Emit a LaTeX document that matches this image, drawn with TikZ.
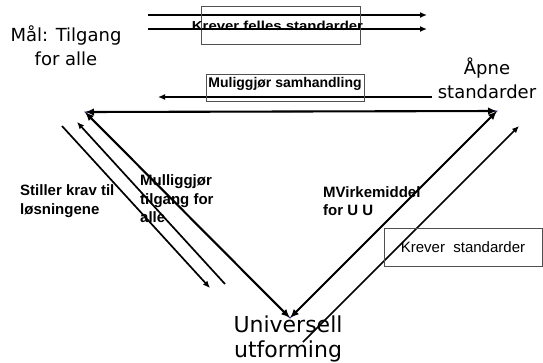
\documentclass[tikz,border=0pt]{standalone}
\usepackage{fontspec}
\usepackage{graphicx}
\setmainfont{Liberation Sans}
\newfontfamily\comic{DejaVu Sans}
\usetikzlibrary{arrows.meta}
\definecolor{navy}{RGB}{51,51,153}
\definecolor{boxgray}{RGB}{80,80,80}
\begin{document}
\begin{tikzpicture}[x=1pt,y=-1pt,
  arr/.style={line width=1.7pt,-{Latex[length=7pt,width=6pt]}},
  darr/.style={line width=2.1pt,{Latex[length=9pt,width=7.5pt]}-{Latex[length=9pt,width=7.5pt]}},
  tri/.style={draw=navy,line width=1pt},
  lbl/.style={font=\bfseries\fontsize{15}{18.5}\selectfont,align=left,inner sep=0pt},
  big/.style={font=\comic\fontsize{18}{24}\selectfont,align=center,inner sep=0pt},
  bigger/.style={font=\comic\fontsize{22}{25}\selectfont,align=center,inner sep=0pt},
  boxd/.style={draw=boxgray,line width=0.7pt,inner sep=0pt}
]
\useasboundingbox (0,0) rectangle (543,362);
% triangle vertices
\coordinate (L) at (85,112);
\coordinate (R) at (497,111);
\coordinate (B) at (290,318);
\draw[tri] (L) -- (R) -- (B) -- cycle;
\draw[darr] (L) -- (R);
\draw[darr] (L) -- (B);
\draw[darr] (B) -- (R);
% parallel arrows
\coordinate (p1a) at (62,126);
\coordinate (p1b) at (210,288);
\coordinate (p2a) at (225,284);
\coordinate (p2b) at (77,122);
\coordinate (p3a) at (303,342);
\coordinate (p3b) at (519,126);
\draw[arr] (p1a) -- (p1b);
\draw[arr] (p2a) -- (p2b);
\draw[arr] (p3a) -- (p3b);
% top arrows
\coordinate (t1a) at (148,15);
\coordinate (t1b) at (427,15);
\coordinate (t2a) at (148,29);
\coordinate (t2b) at (427,29);
\draw[arr] (t1a) -- (t1b);
\draw[arr] (t2a) -- (t2b);
\coordinate (m1a) at (432,97);
\coordinate (m1b) at (158,97);
\draw[arr] (m1a) -- (m1b);
% boxes and labels
\node[boxd,minimum width=159pt,minimum height=38pt] (kfsbox) at (280.5,25) {};
\node[font=\bfseries\fontsize{13}{15}\selectfont,inner sep=0pt,anchor=base] (kfs) at (277.5,30) {\scalebox{1.15}[1]{Krever felles standarder}};
\node[boxd,minimum width=158pt,minimum height=27pt] (mshbox) at (285,87.5) {};
\node[font=\bfseries\fontsize{14}{16}\selectfont,inner sep=0pt,anchor=base] (msh) at (285,87) {Muliggjør samhandling};
\node[boxd,minimum width=158pt,minimum height=38pt,font=\fontsize{15}{18}\selectfont] (ks) at (463,247) {Krever~ standarder};
\node[big] (goal) at (66,46) {Mål: Tilgang\\for alle};
\node[big] (open) at (487,78) {Åpne\\standarder};
\node[bigger] (univ) at (288,339) {Universell\\utforming};
\node[lbl,anchor=west] (skl) at (20,201) {Stiller krav til\\løsningene};
\node[lbl,anchor=west] (mta) at (140,199) {Mulliggjør\\tilgang for\\alle};
\node[lbl,anchor=west] (mvk) at (323,201) {MVirkemiddel\\for U U};
\end{tikzpicture}
\end{document}
